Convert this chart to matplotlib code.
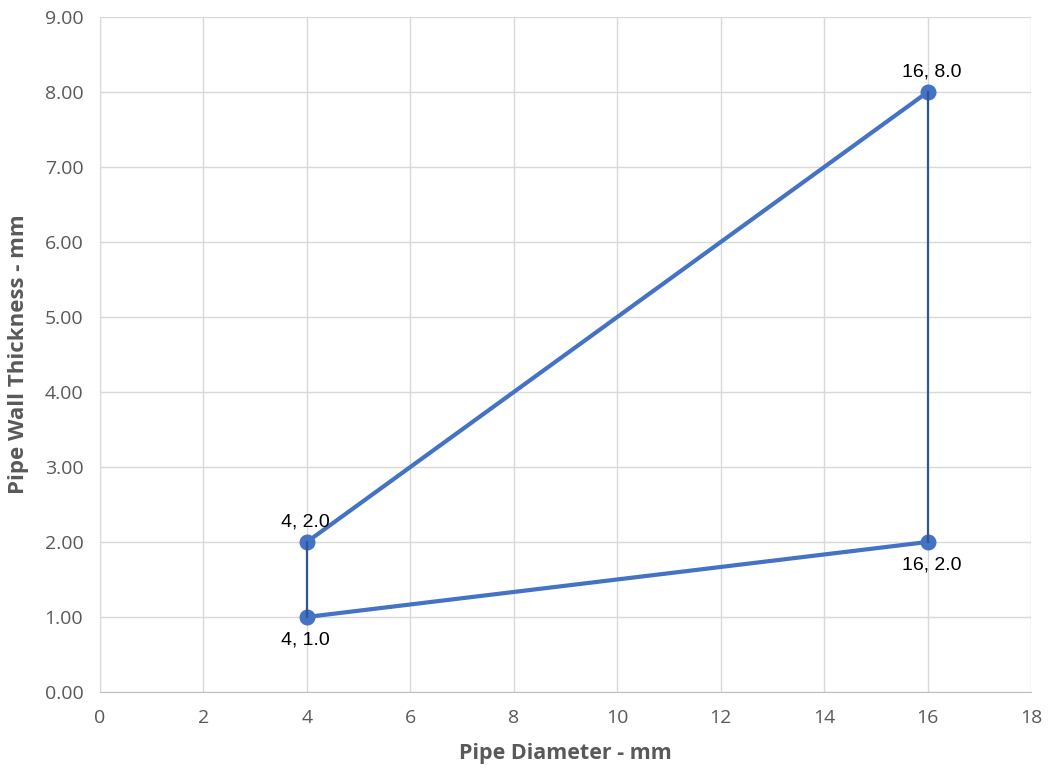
import matplotlib
matplotlib.use("Agg")
import matplotlib.pyplot as plt
from matplotlib.ticker import FormatStrFormatter, MultipleLocator

# Data
upper_x = [4, 16]
upper_y = [2.0, 8.0]
lower_x = [4, 16]
lower_y = [1.0, 2.0]
vert_left_x = [4, 4]
vert_left_y = [1.0, 2.0]
vert_right_x = [16, 16]
vert_right_y = [2.0, 8.0]
labels = ["4, 2.0", "16, 8.0", "4, 1.0", "16, 2.0"]
label_pts = [(4, 2.0), (16, 8.0), (4, 1.0), (16, 2.0)]
label_pos = ["above", "above", "below", "below"]

plt.rcParams['font.family'] = ['Open Sans', 'DejaVu Sans']

fig = plt.figure(figsize=(10.49, 7.74), dpi=100)
ax = fig.add_axes([0.0953, 0.106, 0.8877, 0.872])

blue = "#4472C4"
dark = "#2F5597"

ax.plot(upper_x, upper_y, color=blue, lw=3.0, marker='o', ms=10.5, zorder=3)
ax.plot(lower_x, lower_y, color=blue, lw=3.0, marker='o', ms=10.5, zorder=3)
ax.plot(vert_left_x, vert_left_y, color=dark, lw=1.6, zorder=4)
ax.plot(vert_right_x, vert_right_y, color=dark, lw=1.6, zorder=4)

for txt, (px, py), pos in zip(labels, label_pts, label_pos):
    dx = 3 if px == 16 else -1
    if pos == "above":
        ax.annotate(txt, (px, py), xytext=(dx, 8), textcoords='offset points',
                    ha='center', va='bottom', fontsize=14, color='#000000',
                    family=['Liberation Sans', 'DejaVu Sans'])
    else:
        ax.annotate(txt, (px, py), xytext=(dx, -10.5), textcoords='offset points',
                    ha='center', va='top', fontsize=14, color='#000000',
                    family=['Liberation Sans', 'DejaVu Sans'])

ax.set_xlim(0, 18)
ax.set_ylim(0, 9)
ax.xaxis.set_major_locator(MultipleLocator(2))
ax.yaxis.set_major_locator(MultipleLocator(1))
ax.yaxis.set_major_formatter(FormatStrFormatter('%.2f'))

ax.grid(True, color='#D9D9D9', lw=1)
ax.set_axisbelow(True)
for s in ['top', 'right']:
    ax.spines[s].set_visible(False)
ax.spines['left'].set_color('#D9D9D9')
ax.spines['bottom'].set_color('#BFBFBF')
ax.tick_params(length=0, labelsize=14, colors='#595959', pad=12)

ax.set_xlabel("Pipe Diameter - mm", fontsize=15.5, fontweight='bold', color='#595959', labelpad=12)
ax.set_ylabel("Pipe Wall Thickness - mm", fontsize=16, fontweight='bold', color='#595959', labelpad=11)

fig.savefig("out.png", dpi=100)
